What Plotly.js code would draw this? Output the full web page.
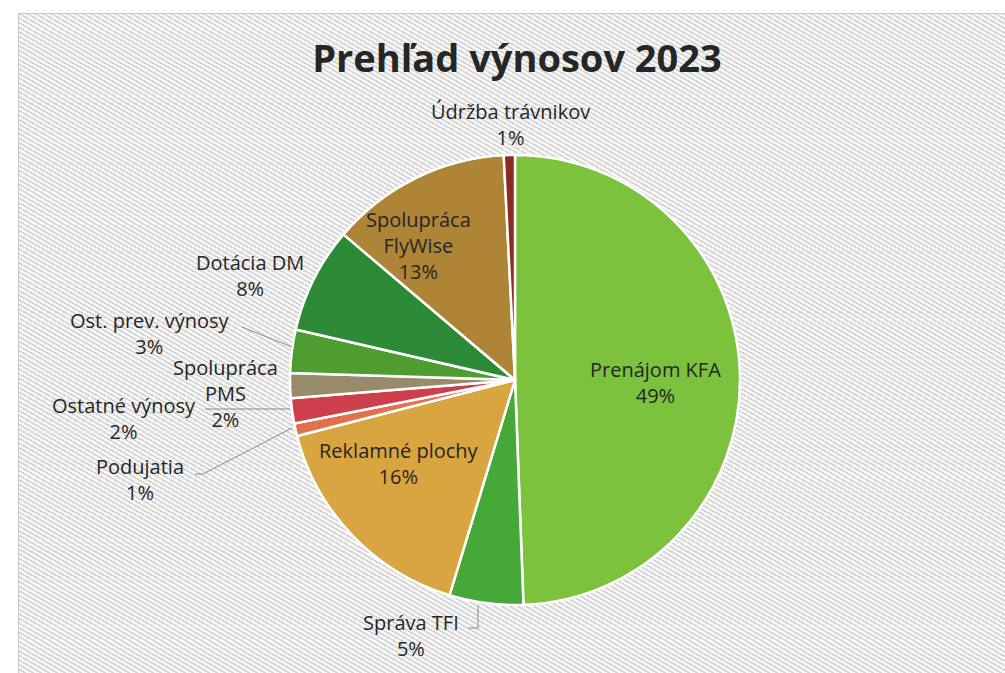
<!DOCTYPE html>
<html>
<head>
<meta charset="utf-8">
<script src="https://cdn.plot.ly/plotly-3.0.1.min.js"></script>
<style>
  html, body { margin: 0; padding: 0; background: #ffffff; }
  #wrap { position: relative; width: 1005px; height: 673px; overflow: hidden; }
  #hatch {
    position: absolute; left: 18px; top: 13px; right: 0; bottom: 0;
    border-left: 1px solid #c8c8c8; border-top: 1px solid #c8c8c8;
    background: repeating-linear-gradient(30deg, #f7f7f7 0px, #f7f7f7 2.4px, #d4d4d4 2.4px, #d4d4d4 4px);
  }
  #chart { position: absolute; left: 0; top: 0; width: 1005px; height: 673px; }
</style>
</head>
<body>
<div id="wrap">
  <div id="hatch"></div>
  <div id="chart"></div>
</div>
<script>
// slices, clockwise from 12 o'clock
const labels = [
  'Prenájom KFA',
  'Správa TFI',
  'Reklamné plochy',
  'Podujatia',
  'Ostatné výnosy',
  'Spolupráca PMS',
  'Ost. prev. výnosy',
  'Dotácia DM',
  'Spolupráca FlyWise',
  'Údržba trávnikov'
];
const values = [49.4, 5.3, 16.3, 0.9, 1.8, 1.8, 3.1, 7.6, 13.0, 0.8];
const colors = ['#7cc23c', '#47a83a', '#d9a541', '#e0714c', '#cc3f4b', '#978b6b', '#4f9c30', '#2c8a36', '#ae8437', '#8b2a22'];

// label block centers (px), inside and outside the pie
const labelPos = {
  'Prenájom KFA': { x: 655, y: 382 },
  'Reklamné plochy': { x: 399, y: 463 },
  'Spolupráca FlyWise': { x: 418, y: 245 },
  'Údržba trávnikov': { x: 510, y: 124 },
  'Dotácia DM': { x: 250, y: 275 },
  'Ost. prev. výnosy': { x: 150, y: 333 },
  'Spolupráca PMS': { x: 225, y: 393 },
  'Ostatné výnosy': { x: 124, y: 418 },
  'Podujatia': { x: 140, y: 479 },
  'Správa TFI': { x: 411, y: 635 }
};
// leader lines (px)
const leaders = [
  [[242, 327], [292, 347]],
  [[205, 409], [290, 409]],
  [[195, 474], [203, 474], [292, 428]],
  [[468, 628], [478, 628], [478, 605]]
];

const W = 1005, H = 673;
const total = values.reduce((a, b) => a + b, 0);
const pct = (v) => Math.round(v / total * 100) + '%';
const brk = (s) => s.replace('Spolupráca ', 'Spolupráca<br>');

const txtFont = { family: 'Open Sans, Noto Sans, sans-serif', size: 20, color: '#262626' };

const annotations = labels.map((l, i) => {
  const p = labelPos[l];
  return {
    xref: 'paper', yref: 'paper', x: p.x / W, y: 1 - p.y / H,
    xanchor: 'center', yanchor: 'middle', showarrow: false,
    text: brk(l) + '<br>' + pct(values[i]),
    font: txtFont
  };
});

const shapes = leaders.map((pts) => ({
  type: 'path', xref: 'paper', yref: 'paper',
  path: pts.map((p, i) => (i ? 'L' : 'M') + (p[0] / W) + ',' + (1 - p[1] / H)).join(' '),
  line: { color: '#8c8c8c', width: 1 }
}));

Plotly.newPlot('chart', [{
  type: 'pie',
  labels: labels,
  values: values,
  sort: false,
  direction: 'clockwise',
  rotation: 0,
  marker: { colors: colors, line: { color: '#ffffff', width: 2.5 } },
  textinfo: 'none',
  domain: { x: [290 / W, 740 / W], y: [1 - 605 / H, 1 - 155 / H] },
  hoverinfo: 'label+percent'
}], {
  width: W,
  height: H,
  paper_bgcolor: 'rgba(0,0,0,0)',
  plot_bgcolor: 'rgba(0,0,0,0)',
  margin: { l: 0, r: 0, t: 0, b: 0 },
  showlegend: false,
  title: {
    text: 'Prehľad výnosov 2023',
    x: 517 / W, xanchor: 'center', y: 1 - 59 / H, yanchor: 'middle',
    font: { family: 'Open Sans, Noto Sans, sans-serif', size: 38, color: '#262626', weight: 'bold' }
  },
  annotations: annotations,
  shapes: shapes
}, { displayModeBar: false, staticPlot: true });
</script>
</body>
</html>
